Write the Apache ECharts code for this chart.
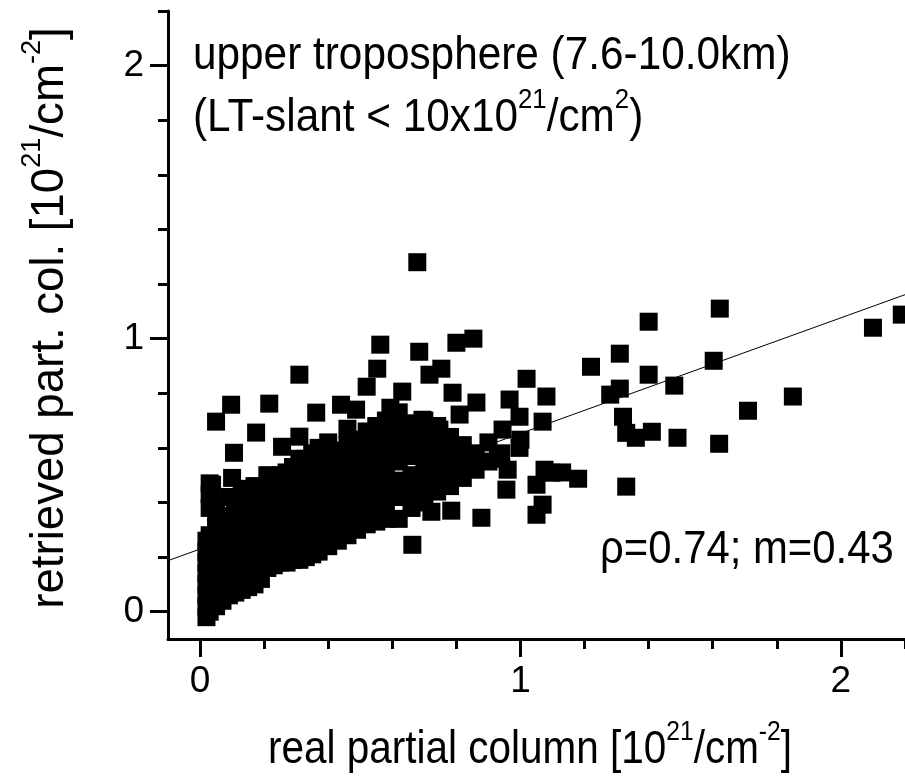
<!DOCTYPE html>
<html><head><meta charset="utf-8">
<script src="https://cdn.jsdelivr.net/npm/echarts@6/dist/echarts.min.js"></script>
<style>html,body{margin:0;padding:0;background:#fff}#c{width:905px;height:783px}</style>
</head><body><div id="c"></div>
<script>
const xMajorTicks = [0, 1, 2];
const xMinorTicks = [0.2, 0.4, 0.6, 0.8, 1.2, 1.4, 1.6, 1.8, 2.2];
const yMajorTicks = [0, 1, 2];
const yMinorTicks = [0.2, 0.4, 0.6, 0.8, 1.2, 1.4, 1.6, 1.8, 2.2];

// dense cluster: [real partial column, list of retrieved values]
const clusterColumns = [
  [0.02, [-0.02, 0.02, 0.06, 0.10, 0.14, 0.18, 0.22, 0.26]],
  [0.03, [0.00, 0.04, 0.08, 0.12, 0.16, 0.20, 0.24, 0.28, 0.38, 0.43, 0.47]],
  [0.05, [0.02, 0.05, 0.10, 0.15, 0.19, 0.23, 0.27, 0.31, 0.36, 0.40]],
  [0.07, [0.04, 0.08, 0.12, 0.17, 0.21, 0.25, 0.29, 0.33]],
  [0.09, [0.06, 0.10, 0.14, 0.18, 0.22, 0.27, 0.31, 0.35, 0.42]],
  [0.11, [0.07, 0.11, 0.16, 0.20, 0.24, 0.28, 0.33, 0.37, 0.41]],
  [0.13, [0.08, 0.13, 0.17, 0.22, 0.26, 0.30, 0.35, 0.39, 0.43]],
  [0.15, [0.09, 0.14, 0.19, 0.23, 0.28, 0.32, 0.36, 0.41, 0.45]],
  [0.17, [0.10, 0.15, 0.20, 0.25, 0.29, 0.34, 0.38, 0.42, 0.46]],
  [0.19, [0.12, 0.17, 0.22, 0.26, 0.31, 0.35, 0.39, 0.44]],
  [0.21, [0.16, 0.20, 0.24, 0.29, 0.33, 0.37, 0.41, 0.46, 0.50]],
  [0.23, [0.17, 0.21, 0.26, 0.30, 0.34, 0.38, 0.43, 0.48]],
  [0.25, [0.18, 0.22, 0.27, 0.31, 0.36, 0.40, 0.45, 0.50]],
  [0.27, [0.18, 0.23, 0.28, 0.32, 0.37, 0.42, 0.46, 0.51]],
  [0.29, [0.19, 0.24, 0.29, 0.34, 0.38, 0.43, 0.48, 0.53]],
  [0.31, [0.19, 0.25, 0.30, 0.35, 0.40, 0.45, 0.50, 0.56]],
  [0.33, [0.20, 0.26, 0.31, 0.36, 0.41, 0.46, 0.51, 0.56]],
  [0.35, [0.21, 0.27, 0.32, 0.37, 0.42, 0.47, 0.53, 0.58]],
  [0.37, [0.22, 0.28, 0.33, 0.38, 0.44, 0.49, 0.55, 0.60]],
  [0.40, [0.24, 0.29, 0.35, 0.40, 0.46, 0.51, 0.57, 0.62]],
  [0.43, [0.26, 0.31, 0.37, 0.42, 0.48, 0.53, 0.59]],
  [0.46, [0.28, 0.33, 0.39, 0.44, 0.50, 0.55, 0.61, 0.67]],
  [0.49, [0.30, 0.35, 0.40, 0.46, 0.52, 0.57, 0.63]],
  [0.52, [0.32, 0.37, 0.42, 0.48, 0.54, 0.60, 0.66]],
  [0.55, [0.33, 0.38, 0.44, 0.50, 0.56, 0.62, 0.68]],
  [0.58, [0.34, 0.40, 0.46, 0.52, 0.58, 0.64, 0.70]],
  [0.62, [0.34, 0.42, 0.48, 0.55, 0.61, 0.67, 0.73]],
  [0.66, [0.38, 0.44, 0.50, 0.57, 0.63, 0.69]],
  [0.70, [0.40, 0.46, 0.52, 0.58, 0.64, 0.70]],
  [0.74, [0.44, 0.50, 0.56, 0.62, 0.68]],
  [0.78, [0.46, 0.52, 0.58, 0.64]],
  [0.82, [0.49, 0.55, 0.61]],
  [0.86, [0.52, 0.58]],
  [0.90, [0.55, 0.62]],
  [0.94, [0.58]]
];

// individually visible points [real, retrieved]
const scatteredPoints = [
  [0.678, 1.28], [0.5625, 0.978], [0.684, 0.952], [0.80, 0.985], [0.853, 1.0],
  [0.553, 0.89], [0.753, 0.89], [0.716, 0.868], [1.019, 0.853], [0.631, 0.806],
  [0.788, 0.802], [1.081, 0.788], [0.966, 0.777], [0.594, 0.747], [0.8625, 0.766],
  [0.997, 0.714], [1.069, 0.696], [0.81, 0.722], [0.694, 0.703], [0.747, 0.667],
  [0.944, 0.667], [0.997, 0.60], [1.097, 0.509], [1.05, 0.465], [0.956, 0.447],
  [1.069, 0.392], [1.05, 0.355], [0.878, 0.344], [0.784, 0.37], [0.722, 0.366],
  [0.6625, 0.245], [0.097, 0.758], [0.216, 0.762], [0.05, 0.696], [0.175, 0.656],
  [0.3625, 0.729], [0.31, 0.868], [0.52, 0.824], [0.44, 0.758], [0.487, 0.74],
  [0.106, 0.582], [0.10, 0.49], [0.0375, 0.465], [0.256, 0.604], [0.31, 0.641],
  [0.93, 0.56], [1.0, 0.63], [0.96, 0.52], [1.075, 0.52],
  [1.622, 1.11], [1.40, 1.062], [2.10, 1.04], [2.19, 1.088], [1.31, 0.945],
  [1.22, 0.897], [1.603, 0.919], [1.40, 0.868], [1.31, 0.817], [1.28, 0.795],
  [1.48, 0.828], [1.85, 0.788], [1.71, 0.736], [1.32, 0.714], [1.33, 0.655],
  [1.36, 0.637], [1.41, 0.659], [1.49, 0.637], [1.62, 0.615], [1.18, 0.487],
  [1.33, 0.458], [1.13, 0.51]
];

const fitLineX = [-0.1, 2.2];
const fitLineY = [0.187, 1.161];

const FONT = '"Liberation Sans", Arial, sans-serif';

const clusterData = [];
clusterColumns.forEach(function (col) {
  col[1].forEach(function (v) { clusterData.push([col[0], v]); });
});
const fitData = fitLineX.map(function (x, i) { return [x, fitLineY[i]]; });

function axisPair(dim) {
  const major = dim === 'x' ? xMajorTicks : yMajorTicks;
  const minor = dim === 'x' ? xMinorTicks : yMinorTicks;
  const pos = dim === 'x' ? 'bottom' : 'left';
  return [
    {
      type: 'value', min: -0.1, max: 2.2, position: pos, gridIndex: 0,
      axisLine: { show: true, onZero: false, lineStyle: { color: '#000', width: 3 } },
      axisTick: { show: true, customValues: major, length: 18, lineStyle: { color: '#000', width: 3 } },
      axisLabel: { show: true, customValues: major, color: '#000', fontSize: 37, fontFamily: FONT, margin: 24 },
      splitLine: { show: false }
    },
    {
      type: 'value', min: -0.1, max: 2.2, position: pos, gridIndex: 0, offset: 0,
      axisLine: { show: false, onZero: false },
      axisTick: { show: true, customValues: minor, length: 10, lineStyle: { color: '#000', width: 3 } },
      axisLabel: { show: false },
      splitLine: { show: false }
    }
  ];
}

const supStyle = { fontSize: 28, lineHeight: 28, verticalAlign: 'top', fontFamily: FONT, fill: '#000' };

const chart = echarts.init(document.getElementById('c'), null, { renderer: 'canvas' });
chart.setOption({
  animation: false,
  backgroundColor: '#fff',
  grid: { left: 168, top: 11, width: 737, height: 628, containLabel: false },
  xAxis: axisPair('x'),
  yAxis: axisPair('y'),
  series: [
    {
      type: 'line', xAxisIndex: 0, yAxisIndex: 0, data: fitData, showSymbol: false,
      lineStyle: { color: '#000', width: 1 }, z: 1
    },
    {
      type: 'scatter', xAxisIndex: 0, yAxisIndex: 0, data: clusterData, symbol: 'rect', symbolSize: 18,
      itemStyle: { color: '#000', opacity: 1 }, z: 2
    },
    {
      type: 'scatter', xAxisIndex: 0, yAxisIndex: 0, data: scatteredPoints, symbol: 'rect', symbolSize: 18,
      itemStyle: { color: '#000', opacity: 1 }, z: 2
    }
  ],
  graphic: [
    {
      type: 'text', x: 193, y: 56, scaleX: 0.92,
      style: { text: 'upper troposphere (7.6-10.0km)', fill: '#000', fontSize: 46, fontFamily: FONT,
        align: 'left', verticalAlign: 'middle', textAlign: 'left', textVerticalAlign: 'middle' }
    },
    {
      type: 'text', x: 193, y: 118, scaleX: 0.92,
      style: { text: '(LT-slant < 10x10{sup|21}/cm{sup|2})', fill: '#000', fontSize: 46, fontFamily: FONT, lineHeight: 64,
        align: 'left', verticalAlign: 'middle', textAlign: 'left', textVerticalAlign: 'middle',
        rich: { sup: supStyle } }
    },
    {
      type: 'text', x: 600, y: 550, scaleX: 0.91,
      style: { text: 'ρ=0.74; m=0.43', fill: '#000', fontSize: 46, fontFamily: FONT,
        align: 'left', verticalAlign: 'middle', textAlign: 'left', textVerticalAlign: 'middle' }
    },
    {
      type: 'text', x: 530, y: 750, scaleX: 0.88,
      style: { text: 'real partial column [10{sup|21}/cm{sup|-2}]', fill: '#000', fontSize: 46, fontFamily: FONT, lineHeight: 64,
        align: 'center', verticalAlign: 'middle', textAlign: 'center', textVerticalAlign: 'middle',
        rich: { sup: supStyle } }
    },
    {
      type: 'text', x: 50, y: 318, rotation: Math.PI / 2, scaleX: 0.97,
      style: { text: 'retrieved part. col. [10{sup|21}/cm{sup|-2}]', fill: '#000', fontSize: 47, fontFamily: FONT, lineHeight: 64,
        align: 'center', verticalAlign: 'middle', textAlign: 'center', textVerticalAlign: 'middle',
        rich: { sup: supStyle } }
    }
  ]
});
</script>
</body></html>
